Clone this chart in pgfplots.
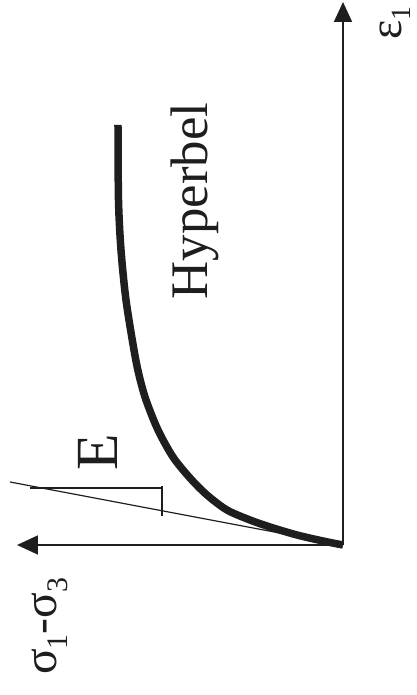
\documentclass[border=0pt]{standalone}
\usepackage{pgfplots}
\pgfplotsset{compat=1.18}
\usetikzlibrary{arrows.meta}
\usepackage{fontspec}
\setmainfont{Liberation Serif}
\definecolor{ink}{HTML}{1E1E1E}

% hyperbolic stress-strain law, drawn with strain upward and deviator stress to the left
\begin{document}
\begin{tikzpicture}
\begin{axis}[
  hide axis, scale only axis,
  width=417bp, height=695bp,
  x dir=reverse,
  xmin=-74, xmax=343, ymin=-150, ymax=545,
  clip=false,
]
% frame of the sketch (keeps the page size)
\path (rel axis cs:0,0) rectangle (rel axis cs:1,1);

% axes: epsilon_1 upward, sigma_1 - sigma_3 to the left
\addplot[ink, line width=1.8bp, -{Triangle[length=20bp,width=18bp]}]
  coordinates {(0,0) (0,543)};
\addplot[ink, line width=1.8bp, -{Triangle[length=21bp,width=19bp]}]
  coordinates {(0,0) (326,0)};

% initial tangent (modulus E)
\addplot[ink, line width=1.2bp] coordinates {(0,0) (333,63)};
% slope triangle
\addplot[ink, line width=1.2bp] coordinates {(313,57) (181,57)};
\addplot[ink, line width=1.2bp] coordinates {(181,59) (181,29)};

% hyperbola
\addplot[ink, line width=7.5bp, smooth, line cap=butt] coordinates {
  (0,0) (20,4) (46,10) (73,18) (93,25) (116,35) (136,50) (153,67)
  (170,88) (185,115) (197,145) (204,170) (209,195) (217,245)
  (222,295) (224.5,345) (225,420)
};

% labels
\node[rotate=90, text=ink, font=\fontsize{53}{53}\selectfont] at (axis cs:148,344) {Hyperbel};
\node[rotate=90, text=ink, font=\fontsize{60}{60}\selectfont] at (axis cs:245,93) {E};
\node[rotate=90, anchor=base west, text=ink, font=\fontsize{48}{48}\selectfont, inner sep=0pt]
  at (axis cs:286,-130) {σ\raisebox{-0.22em}{\fontsize{30}{30}\selectfont 1}-σ\raisebox{-0.22em}{\fontsize{30}{30}\selectfont 3}};
\node[rotate=90, anchor=base west, text=ink, font=\fontsize{46}{46}\selectfont, inner sep=0pt]
  at (axis cs:-58,505) {ε\raisebox{-0.2em}{\fontsize{28}{28}\selectfont 1}};
\end{axis}
\end{tikzpicture}
\end{document}
